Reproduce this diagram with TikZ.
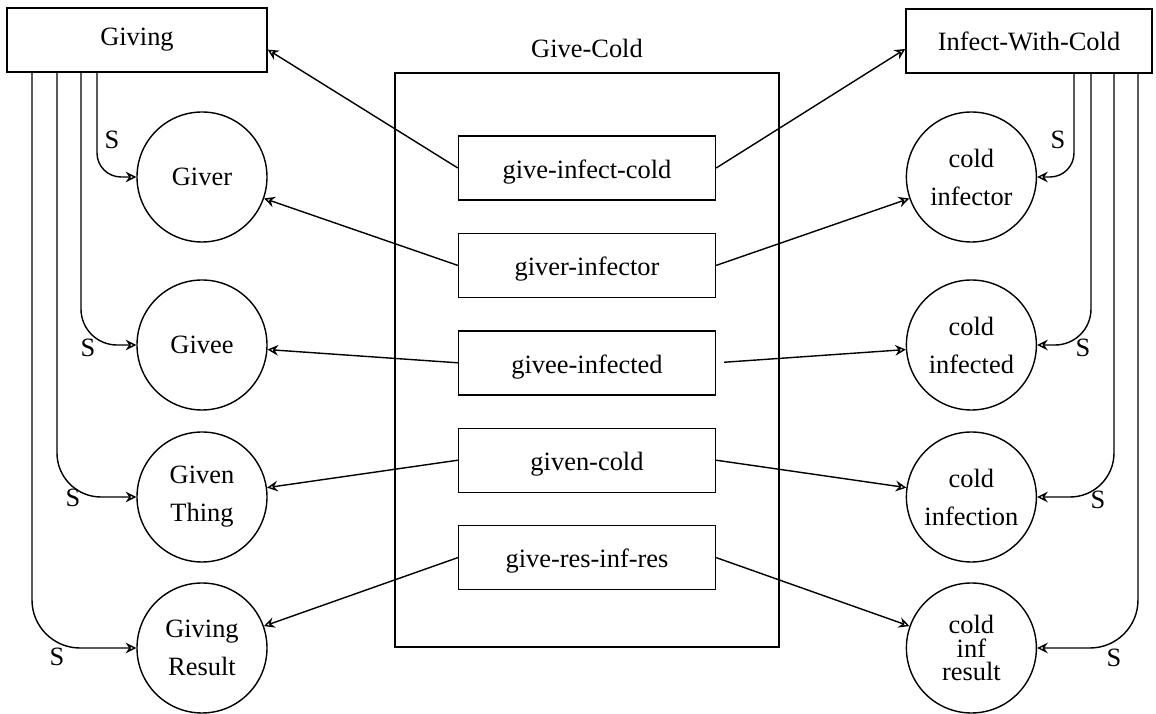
\documentclass[tikz,border=0pt]{standalone}
\usepackage{fontspec}
\setmainfont{Liberation Serif}
\usetikzlibrary{arrows.meta,positioning}

\begin{document}
\begin{tikzpicture}[
    font=\rmfamily\fontsize{9.4}{13.5}\selectfont,
    line width=0.5pt,
    node distance=0.4cm and 1cm,
    frame/.style={rectangle, draw, minimum width=3.25cm, minimum height=0.8cm, inner sep=0pt},
    slot/.style={rectangle, draw, minimum width=3.2125cm, minimum height=0.8cm, inner sep=0pt, text depth=0pt, text height=1.6ex},
    role/.style={circle, draw, minimum size=1.625cm, inner sep=0pt, align=center},
    arrow/.style={-{Stealth[open, length=3.8pt, width=3.8pt, inset=1.3pt]}},
    sub/.style={arrow, rounded corners=0.45cm},
    slabel/.style={inner sep=0pt}
]
\useasboundingbox (0,0) rectangle (14.45,-8.925);

% frames
\node[frame] (giving) at (1.7125,-0.5) {Giving};
\node[frame, minimum width=3.075cm] (infect) at (12.8625,-0.5125) {Infect-With-Cold};
\node[rectangle, draw, minimum width=4.8cm, minimum height=7.175cm,
      label={[label distance=0.05cm]above:Give-Cold}] (givecold) at (7.3375,-4.5) {};

% mappings inside Give-Cold
\node[slot] (gic) at (7.3375,-2.1) {give-infect-cold};
\node[slot, below=of gic] (gi) {giver-infector};
\node[slot, below=of gi] (gei) {givee-infected};
\node[slot, below=of gei] (gc) {given-cold};
\node[slot, below=of gc] (grir) {give-res-inf-res};

% roles of Giving
\node[role] (giver) at (2.525,-2.2125) {Giver};
\node[role] (givee) at (2.525,-4.3125) {Givee};
\node[role] (thing) at (2.525,-6.2125) {Given\\Thing};
\node[role] (result) at (2.525,-8.1) {Giving\\Result};

% roles of Infect-With-Cold
\node[role, right=7.975cm of giver] (infector) {cold\\infector};
\node[role, right=7.975cm of givee] (infected) {cold\\infected};
\node[role, right=7.975cm of thing] (infection) {cold\\infection};
\node[role, right=7.975cm of result] (infresult) {cold\\[-5.2pt]inf\\[-5.2pt]result};

% mapping arrows
\draw[arrow] (gic.west) -- ([yshift=-0.12cm]giving.east);
\draw[arrow] (gic.east) -- ([yshift=-0.1cm]infect.west);
\draw[arrow] (gi.west) -- (giver);
\draw[arrow] (gi.east) -- (infector);
\draw[arrow] (gei.west) -- (givee);
\draw[arrow, shorten <=0.1cm] (gei.east) -- (infected);
\draw[arrow] (gc.west) -- (thing);
\draw[arrow] (gc.east) -- (infection);
\draw[arrow] (grir.west) -- (result);
\draw[arrow] (grir.east) -- (infresult);

% subset links
\draw[sub, rounded corners=0.3cm] ([xshift=-0.5cm]giving.south) |- (giver);
\draw[sub] ([xshift=-0.7cm]giving.south) |- (givee);
\draw[sub, rounded corners=0.55cm] ([xshift=-1cm]giving.south) |- (thing);
\draw[sub, rounded corners=0.6cm] ([xshift=-1.3125cm]giving.south) |- (result);
\draw[sub, rounded corners=0.3cm] ([xshift=0.5625cm]infect.south) |- (infector);
\draw[sub] ([xshift=0.775cm]infect.south) |- (infected);
\draw[sub, rounded corners=0.55cm] ([xshift=1.0625cm]infect.south) |- (infection);
\draw[sub, rounded corners=0.6cm] ([xshift=1.3625cm]infect.south) |- (infresult);

\node[slabel] (s1) at (1.4,-1.75) {S};
\node[slabel] (s2) at (1.1,-4.35) {S};
\node[slabel] (s3) at (0.9125,-6.225) {S};
\node[slabel] (s4) at (0.7125,-8.2125) {S};
\node[slabel] (s5) at (13.225,-1.75) {S};
\node[slabel] (s6) at (13.5375,-4.35) {S};
\node[slabel] (s7) at (13.725,-6.25) {S};
\node[slabel] (s8) at (13.925,-8.225) {S};

\end{tikzpicture}
\end{document}
